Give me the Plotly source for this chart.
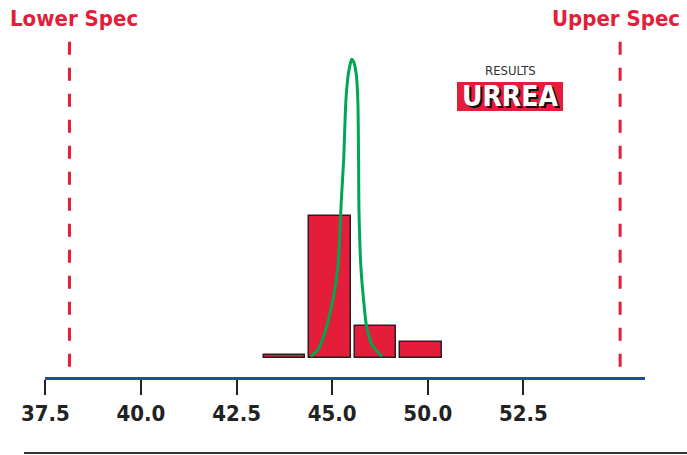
import plotly.graph_objects as go

# ---- data ----
tick_vals = [37.5, 40.0, 42.5, 45.0, 47.5, 50.0]
tick_labels = ["37.5", "40.0", "42.5", "45.0", "50.0", "52.5"]

bin_centers = [43.75, 44.94, 46.13, 47.32]
bin_heights = [0.7, 40.7, 8.9, 4.4]
bin_width = 1.09

curve_x = [44.44, 44.63, 44.81, 45.02, 45.15, 45.24, 45.30, 45.36, 45.42, 45.47,
           45.51, 45.56, 45.63, 45.67, 45.69, 45.70, 45.75, 45.82, 45.90, 46.04, 46.30]
curve_y = [0.3, 2.3, 7.2, 16.6, 26.1, 45.3, 56.7, 73.9, 81.1, 84.0,
           85.5, 84.8, 81.1, 73.9, 56.7, 42.4, 26.1, 16.6, 8.9, 3.7, 0.3]

lower_spec = 38.13
upper_spec = 52.53
spec_labels = ["Lower Spec", "Upper Spec"]

RED = "#E31D3A"
GREEN = "#00A651"
NARROW = "DejaVu Sans Condensed, Liberation Sans Narrow, sans-serif"

W, H = 687, 455
L, T = 45, 40
PW, PH = 600, 337
R = W - L - PW
B = H - T - PH


def px_x(wx):
    return (wx - L) / PW


def px_y(wy):
    return (T + PH - wy) / PH


fig = go.Figure()

fig.add_trace(go.Bar(
    x=bin_centers, y=bin_heights, width=[bin_width] * len(bin_centers),
    marker=dict(color=RED, line=dict(color="#2a1f22", width=1.5)),
    hoverinfo="skip", showlegend=False,
))

fig.add_trace(go.Scatter(
    x=curve_x, y=curve_y, mode="lines",
    line=dict(color=GREEN, width=3, shape="spline", smoothing=0.8),
    hoverinfo="skip", showlegend=False,
))

for xv in (lower_spec, upper_spec):
    fig.add_trace(go.Scatter(
        x=[xv, xv], y=[90.5, -3.7], mode="lines",
        line=dict(color=RED, width=3, dash="13px,13px"),
        hoverinfo="skip", showlegend=False,
    ))

annotations = [
    dict(text=spec_labels[0], xref="paper", yref="paper",
         x=px_x(8), y=px_y(19), xanchor="left", yanchor="middle", showarrow=False,
         font=dict(family=NARROW, size=22, color=RED, weight="bold")),
    dict(text=spec_labels[1], xref="paper", yref="paper",
         x=px_x(682), y=px_y(19), xanchor="right", yanchor="middle", showarrow=False,
         font=dict(family=NARROW, size=22, color=RED, weight="bold")),
    dict(text="RESULTS", xref="paper", yref="paper",
         x=px_x(510), y=px_y(71), xanchor="center", yanchor="middle", showarrow=False,
         font=dict(family=NARROW, size=13, color="#333333")),
    dict(text="URREA", xref="paper", yref="paper",
         x=px_x(510), y=px_y(97), xanchor="center", yanchor="middle", showarrow=False,
         font=dict(family=NARROW, size=28, color="white", weight="bold",
                   shadow="2px 2px 0px #111")),
]

shapes = [
    dict(type="rect", xref="paper", yref="paper", x0=px_x(457), x1=px_x(563),
         y0=px_y(111), y1=px_y(82), fillcolor=RED, line=dict(width=0), layer="below"),
    dict(type="line", xref="paper", yref="paper", x0=px_x(24), x1=px_x(700),
         y0=px_y(453), y1=px_y(453), line=dict(color="#333333", width=2)),
]

fig.update_layout(
    width=W, height=H,
    margin=dict(l=L, r=R, t=T, b=B, pad=0),
    paper_bgcolor="white", plot_bgcolor="white",
    bargap=0,
    annotations=annotations, shapes=shapes,
    xaxis=dict(
        range=[37.49, 53.18], tickvals=tick_vals, ticktext=tick_labels,
        showgrid=False, zeroline=False,
        showline=True, linecolor="#1F4E96", linewidth=3,
        ticks="outside", ticklen=15, tickwidth=2, tickcolor="#222222",
        tickfont=dict(family=NARROW, size=22, color="#222222", weight="bold"),
    ),
    yaxis=dict(range=[-5.59, 91.0], visible=False),
)

fig.write_html("out.html", config={"displayModeBar": False},
               post_script="document.body.style.margin='0';")
